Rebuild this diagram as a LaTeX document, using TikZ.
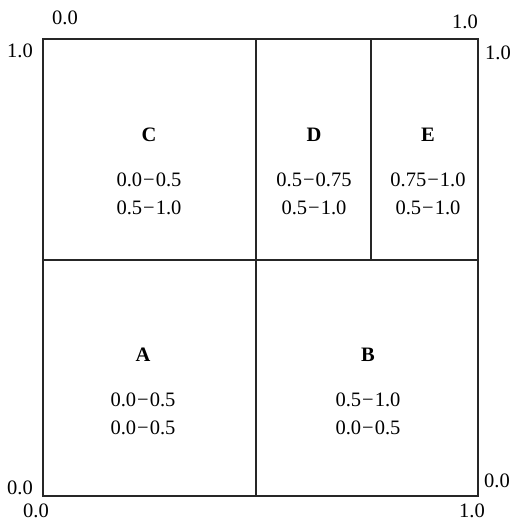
\documentclass[tikz,border=0pt]{standalone}
\usepackage{fontspec}
\setmainfont{Liberation Serif}
\usetikzlibrary{positioning}

\newcommand{\rng}[2]{#1\kern1pt\char"2212\kern1pt#2}

\begin{document}
\begin{tikzpicture}[
  x=1pt, y=-1pt,
  font=\fontsize{20.5}{28}\selectfont,
  cell/.style={align=center, inner sep=0pt},
  tick/.style={inner sep=0pt},
  edge/.style={line width=1.1pt, black!85}
]
\useasboundingbox (0,0) rectangle (515,522);

% outer square and splits
\draw[edge] (43,39) rectangle (478,496);
\draw[edge] (43,260) -- (478,260);
\draw[edge] (256,39) -- (256,496);
\draw[edge] (371,39) -- (371,260);

% regions
\node[cell] (c) at (149,171) {\textbf{C}\\[17pt] \rng{0.0}{0.5}\\ \rng{0.5}{1.0}};
\node[cell] (d) at (314,171) {\textbf{D}\\[17pt] \rng{0.5}{0.75}\\ \rng{0.5}{1.0}};
\node[cell] (e) at (428,171) {\textbf{E}\\[17pt] \rng{0.75}{1.0}\\ \rng{0.5}{1.0}};
\node[cell] (a) at (143,391) {\textbf{A}\\[17pt] \rng{0.0}{0.5}\\ \rng{0.0}{0.5}};
\node[cell] (b) at (368,391) {\textbf{B}\\[17pt] \rng{0.5}{1.0}\\ \rng{0.0}{0.5}};

% corner values
\node[tick] (tl) at (65,18) {0.0};
\node[tick] (tr) at (465,22) {1.0};
\node[tick] (lt) at (20,51) {1.0};
\node[tick] (rt) at (498,53) {1.0};
\node[tick] (lb) at (20,488) {0.0};
\node[tick] (rb) at (497,481) {0.0};
\node[tick] (bl) at (36,511) {0.0};
\node[tick] (br) at (472,511) {1.0};
\end{tikzpicture}
\end{document}
